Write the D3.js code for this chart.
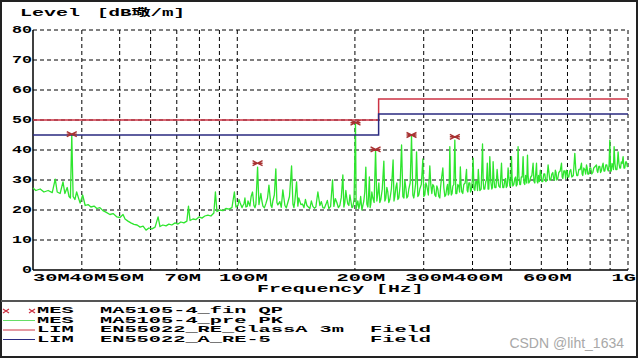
<!DOCTYPE html>
<html>
<head>
<meta charset="utf-8">
<script src="https://cdn.jsdelivr.net/npm/d3@7"></script>
<style>
  body { margin: 0; background: #fff; }
  svg { display: block; }
  text { font-family: "Liberation Mono", "Noto Sans CJK SC", monospace; font-weight: bold; white-space: pre; }
</style>
</head>
<body>
<svg id="chart" width="640" height="360"></svg>
<script>
// y axis
const levelTicks = [0, 10, 20, 30, 40, 50, 60, 70, 80];
// x grid (MHz) and labelled ticks
const freqGrid = [40, 50, 60, 70, 80, 90, 100, 200, 300, 400, 500, 600, 700, 800, 900, 1000];
const freqTicks = [30, 40, 50, 70, 100, 200, 300, 400, 600, 1000];
const freqTickLabels = ["30M", "40M", "50M", "70M", "100M", "200M", "300M", "400M", "600M", "1G"];

// limit lines [MHz, dBuV/m]
const limClassA = [[30, 50], [230, 50], [230, 57], [1000, 57]];
const limARe5 = [[30, 45], [230, 45], [230, 52], [1000, 52]];

// final QP measurements
const qpFreq = [37.7, 112.7, 200.7, 225.9, 279.2, 360.4];
const qpLevel = [45.3, 35.6, 49.1, 40.2, 45.0, 44.4];

// pre-scan PK trace, peaks and dips [MHz, dBuV/m]
const pkPeaks = [
  [30.0,27.3],[30.5,26.5],[31.3,27],[32.0,26],[32.8,26.5],[33.6,25.8],[34.2,30.3],[34.6,26],[35.2,25.5],[35.8,29.4],
  [36.2,25.5],[36.7,27.5],[37.1,24.5],[37.4,24],[37.7,45],[38.0,24.5],[38.4,23.5],[38.8,26],[39.6,22.3],[40.2,25],
  [40.8,21.5],[41.5,21.8],[42.2,21],[43.0,21.3],[43.7,20.5],[44.5,20.8],[45.3,19.8],[46.1,19.3],[47.2,18.5],[48.1,18.8],
  [49.2,17.7],[50.1,17.5],[51.0,18.5],[51.6,17],[52.5,16.3],[53.4,15.7],[54.4,15.2],[55.4,15],[56.4,14.3],[57.4,14.6],
  [58.4,13.3],[59.4,14],[60.5,13.7],[61.6,14.3],[62.7,17.7],[63.4,14.5],[64.5,15],[65.7,14.7],[66.8,15.3],[68.0,15],
  [69.3,15.7],[70.5,15.3],[71.7,16],[73.0,15.7],[74.3,16.3],[75.0,21.3],[75.7,16.5],[77.0,17],[78.4,16.8],[79.8,17.7],
  [81.2,17.3],[82.6,18],[84.1,18.3],[85.6,18],[87.1,19],[87.9,26],[88.7,19.5],[90.3,20],[91.9,19.8],[93.5,20.5],
  [95.2,20.3],[96.9,20.8],[98.3,26],[99.2,21],
  [100.4,21.5],[101.6,22.5],[102.8,20.8],[104.0,22],[105.2,21],[106.5,23],[107.7,21.3],[109.4,26],[110.3,21.5],[111.6,22],
  [112.7,34.3],[113.6,21.8],[114.9,25.5],[116.3,21.3],[118.4,22.2],[120.5,28.3],[121.9,21.5],[123.3,23],[125.5,33.7],[127.0,21.7],
  [128.5,22.8],[130.8,26.7],[132.4,21.5],[134.7,22.5],[137.7,34.7],[138.8,22],[140.4,23],[141.8,29.4],[142.9,21.3],[145.5,21.8],
  [148.1,20.8],[150.7,21.5],[153.4,20.5],[156.1,21.2],[158.9,21],[160.8,26],[162.7,21.5],[165.6,20.8],[168.5,21.8],[171.5,20.5],
  [175.3,30],[176.7,21.2],[179.8,22.5],[183.0,21.5],[186.3,31.7],[188.5,22.5],[190.7,24],[193.0,21.5],[195.3,23],[197.6,21],
  [200.7,48.8],[202.3,21.5],[204.7,20.5],
  [205.9,22],[208.4,20],[210.8,23],[213.3,34.3],[215.9,21],[217.8,31],[219.7,22],[222.3,24],[225.9,40],[227.6,23],
  [230.3,29],[233.0,23.5],[237.2,36.3],[240.0,24],[242.8,26],[245.7,23.5],[250.5,36.7],[253.1,24.5],[256.1,29],[259.1,24],
  [263.3,41.7],[265.3,24.5],[268.4,30],[271.6,24],[274.8,27],[279.2,44.5],[281.4,25],[284.7,26.5],[287.6,39.4],[289.8,24.5],
  [293.2,27],[298.5,37],[302.0,25],[305.6,28],[311.0,34.7],
  [314.7,25.5],[318.4,28],[322.2,24.5],[326.0,27],[329.9,24],[332.8,30],[335.8,34],[339.8,24.5],[343.8,27.5],[346.8,25],
  [349.9,41.1],[353.0,25],[356.2,28],[360.4,43.3],[364.6,25.5],[369.0,28],[372.3,34.4],[375.5,26],[380.0,28.5],[386.1,33.5],
  [389.1,26],[393.7,29],[397.2,26.5],[401.4,37.3],[405.5,26.5],[410.2,29.5],[413.9,33.5],[417.6,26.5],[424.3,42],[427.5,27],
  [432.6,29.5],[436.4,35.6],[440.3,27],[442.9,37.8],[448.2,27],[451.6,36.1],[456.2,27.5],[462.4,33.5],[467.0,28],[474.5,35.6],
  [478.1,27.5],[483.8,30],[488.1,27.5],[493.3,34],[498.3,28],[503.3,37.8],[507.2,28],[513.2,30.5],[517.7,28],[523.2,41.1],
  [528.5,28.5],[533.2,31],[538.9,37.8],[544.3,28.5],[553.0,38.3],[557.3,29],[563.9,31],[571.6,35.6],[577.4,29],[583.2,35.6],
  [587.7,29],[596.5,33.3],[601.6,29.5],[608.8,32],[616.0,29.5],[624.4,35],[630.7,30],[638.2,32],[645.8,30],[651.6,33.3],
  [657.3,30],[665.1,32.5],[675.8,35.6],[681.0,30.5],[689.1,33],[695.9,33.3],[701.3,31],[709.6,33],[718.1,31],[730.9,38.9],
  [739.5,31.5],[748.3,33.5],[760.2,35.6],[766.1,31.5],[775.2,33.5],[783.0,35],[789.0,32],[798.4,34],[807.8,32],[817.4,34],
  [830.5,35],[836.9,32.5],[846.9,34.5],[854.4,33],[863.5,35.6],[872.3,33],[882.6,35],[890.4,33],[898.4,43.3],[906.2,33],
  [914.3,35],[921.4,41.1],[930.5,33.5],[943.3,39.4],[952.8,34],[961.2,36],[971.5,37.8],[981.3,34],[991.2,36],[1000,34.5]
];

// pre-scan PK trace, dense noise band above 100 MHz [MHz, dBuV/m]
const pkBand = [
  [101.0,23.5],[103.4,21.5],[104.6,24],[106.0,21.2],[108.5,24.5],[111.0,20.8],[115.6,23],[117.3,20.7],[119.5,24],[122.6,20.8],
  [124.4,25],[126.3,22.5],[129.6,20.9],[131.6,24],[133.5,20.7],[136.0,24.5],[139.6,20.8],[143.7,24],[146.8,22],[149.4,23.5],
  [152.0,21],[154.7,23],[157.5,20.6],[159.8,23.5],[164.1,22.8],[167.0,20.6],[170.0,23.2],[173.3,21.2],[178.2,23.8],[181.4,20.8],
  [184.6,24.2],[187.4,21],[189.6,26.5],[191.8,22],[194.2,25],[196.5,20.8],[199.0,23.5],[201.5,20.5],[203.5,23],
  [206.9,24.5],[209.6,21.5],[212.0,26],[214.6,22],[216.8,25],[218.8,20.8],[221.0,26],[224.0,22.5],[229.0,25.5],[231.6,22.5],
  [235.0,27],[238.6,23],[241.4,27.5],[244.2,22.5],[248.0,27],[251.8,23],[254.6,27.5],[257.6,23.5],[261.0,28],[267.0,24],
  [270.0,27.5],[273.2,24.5],[277.0,29],[283.0,24],[286.2,29],[291.5,25],[295.8,28.5],[300.2,24.5],[303.8,29],[308.3,25],
  [312.8,28.5],[316.5,28.5],[320.3,25],[324.1,28],[327.9,24.5],[331.3,27.5],[337.8,27.5],[341.8,25],[345.3,28.5],[348.3,25.5],
  [351.4,28],[354.6,25.5],[358.3,28.5],[362.5,25.5],[366.8,28.5],[370.6,26],[373.9,28.5],[377.7,25.5],[383.0,29],[387.6,26.5],
  [391.4,29],[395.4,26],[399.3,29.5],[403.4,27],[407.8,29.5],[412.0,26.5],[415.7,29.5],[420.9,27],[426.0,29.5],[430.0,27],
  [434.5,30],[438.3,27],[445.5,29.5],[450.0,27.5],[453.9,30],[459.3,27.5],[464.7,30],[470.7,27.5],[476.3,30],[481.0,27.5],
  [486.0,30.5],[490.7,28],[495.8,30.5],[500.8,28],[505.2,30.5],[510.2,28.5],[515.5,31],[520.5,28.5],[525.8,31],[530.8,28.5],
  [536.0,31],[541.6,29],[547.0,31.5],[550.6,29],[555.0,31.5],[560.6,29.5],[567.5,31.5],[574.5,29.5],[580.3,32],[585.4,29.5],
  [590.0,31.5],[593.0,29.5],[599.0,32],[605.2,29.5],[612.4,32],[620.0,30],[627.5,32.5],[634.4,30],[642.0,32.5],[648.7,30],
  [654.4,32.5],[661.2,30.5],[670.4,33],[678.4,31],[685.0,33],[692.5,30.5],[698.6,33],[705.4,31],[713.8,33.5],[724.5,31.5],
  [735.2,33.5],[743.9,31.5],[754.2,33.5],[763.1,32],[770.6,34],[779.1,32],[786.0,34],[793.7,32],[803.1,34],[812.6,32.5],
  [824.0,34.5],[833.7,33],[841.9,34.5],[850.6,32.5],[859.0,34.5],[867.9,33],[877.4,35],[886.5,33.5],[894.4,35],[902.3,33],
  [910.2,35.5],[917.8,33.5],[926.0,35.5],[936.9,33.5],[948.0,35.5],[957.0,34],[966.3,35.5],[976.4,34],[986.2,36],[995.6,34.5]
];

const legendRows = [
  {tag: "MES", name: "MA5105-4_fin QP", extra: ""},
  {tag: "MES", name: "MA5105-4_pre PK", extra: ""},
  {tag: "LIM", name: "EN55022_RE_ClassA 3m", extra: "Field"},
  {tag: "LIM", name: "EN55022_A_RE-5", extra: "Field"}
];

const green = "#2ee52e";
const red = "#cc3344";
const blue = "#2a2a80";
const qpColor = "#a83232";
const charW = 12.2;

const svg = d3.select("#chart");

// outer frame + divider
svg.append("rect").attr("x", 1).attr("y", 1).attr("width", 636).attr("height", 356)
  .attr("fill", "none").attr("stroke", "#222").attr("stroke-width", 2);
svg.append("line").attr("x1", 1).attr("x2", 637).attr("y1", 301).attr("y2", 301)
  .attr("stroke", "#555").attr("stroke-width", 2);

const x = d3.scaleLog().domain([30, 1000]).range([33, 628]);
const y = d3.scaleLinear().domain([0, 80]).range([270, 30]);

// grid
svg.append("g").selectAll("line")
  .data(levelTicks.filter(d => d > 0))
  .join("line")
  .attr("x1", x(30)).attr("x2", x(1000))
  .attr("y1", d => y(d)).attr("y2", d => y(d))
  .attr("stroke", "#000").attr("stroke-dasharray", "4,3");

svg.append("g").selectAll("line")
  .data(freqGrid)
  .join("line")
  .attr("x1", d => x(d)).attr("x2", d => x(d))
  .attr("y1", y(80)).attr("y2", y(0))
  .attr("stroke", "#000").attr("stroke-dasharray", "4,3");

// axes lines
svg.append("line").attr("x1", x(30)).attr("x2", x(30)).attr("y1", y(80)).attr("y2", y(0))
  .attr("stroke", "#000").attr("stroke-width", 1.5);
svg.append("line").attr("x1", x(30)).attr("x2", x(1000)).attr("y1", y(0)).attr("y2", y(0))
  .attr("stroke", "#000").attr("stroke-width", 1.5);

// y labels
svg.append("g").selectAll("text")
  .data(levelTicks)
  .join("text")
  .attr("x", x(30) - 1)
  .attr("y", d => y(d))
  .attr("text-anchor", "end")
  .attr("dominant-baseline", "middle")
  .attr("font-size", 11)
  .attr("textLength", d => String(d).length * 10)
  .attr("lengthAdjust", "spacingAndGlyphs")
  .text(d => d);

// x labels
svg.append("g").selectAll("text")
  .data(freqTicks)
  .join("text")
  .attr("x", (d, i) => i === 0 ? x(d) : (i === freqTicks.length - 1 ? 636 : x(d) + 6))
  .attr("y", 278)
  .attr("text-anchor", (d, i) => i === 0 ? "start" : (i === freqTicks.length - 1 ? "end" : "middle"))
  .attr("dominant-baseline", "middle")
  .attr("font-size", 11)
  .attr("textLength", (d, i) => freqTickLabels[i].length * charW)
  .attr("lengthAdjust", "spacingAndGlyphs")
  .text((d, i) => freqTickLabels[i]);

// axis titles
svg.append("text").attr("x", 20).attr("y", 13).attr("dominant-baseline", "middle")
  .attr("font-size", 10).attr("textLength", 60).attr("lengthAdjust", "spacingAndGlyphs")
  .text("Level");
svg.append("text").attr("x", 97).attr("y", 13).attr("dominant-baseline", "middle")
  .attr("font-size", 10).attr("textLength", 88).attr("lengthAdjust", "spacingAndGlyphs")
  .text("[dB璥/m]");
svg.append("text").attr("x", 257).attr("y", 289).attr("dominant-baseline", "middle")
  .attr("font-size", 11).attr("textLength", 14 * 11.9).attr("lengthAdjust", "spacingAndGlyphs")
  .text("Frequency [Hz]");

// PK trace
const pkTrace = pkPeaks.concat(pkBand).sort((a, b) => a[0] - b[0]);
const line = d3.line().x(d => x(d[0])).y(d => y(d[1]));
svg.append("path")
  .attr("d", line(pkTrace))
  .attr("fill", "none")
  .attr("stroke", green)
  .attr("stroke-width", 1.3)
  .attr("stroke-linejoin", "round");

// limits
svg.append("path").attr("d", line(limClassA)).attr("fill", "none").attr("stroke", red).attr("stroke-width", 1.5);
svg.append("path").attr("d", line(limARe5)).attr("fill", "none").attr("stroke", blue).attr("stroke-width", 1.5);

// QP markers
const qpMark = "M-5,-2.5L5,2.5M-5,2.5L5,-2.5M-5,0L5,0";
svg.append("g").selectAll("path")
  .data(qpFreq)
  .join("path")
  .attr("transform", (d, i) => `translate(${x(d)},${y(qpLevel[i])})`)
  .attr("d", qpMark)
  .attr("fill", "none")
  .attr("stroke", qpColor)
  .attr("stroke-width", 1.4);

// legend
const rowY = [311, 320.5, 330, 339.5];
const legend = svg.append("g");
legend.append("path").attr("d", "M-3,-2L3,2M-3,2L3,-2").attr("transform", `translate(6,${rowY[0]})`)
  .attr("stroke", red).attr("stroke-width", 1.3);
legend.append("path").attr("d", "M-3,-2L3,2M-3,2L3,-2").attr("transform", `translate(32,${rowY[0]})`)
  .attr("stroke", red).attr("stroke-width", 1.3);
legend.append("line").attr("x1", 3).attr("x2", 35).attr("y1", rowY[1]).attr("y2", rowY[1]).attr("stroke", "#66dd66");
legend.append("line").attr("x1", 3).attr("x2", 35).attr("y1", rowY[2]).attr("y2", rowY[2]).attr("stroke", red);
legend.append("line").attr("x1", 3).attr("x2", 35).attr("y1", rowY[3]).attr("y2", rowY[3]).attr("stroke", blue);

legendRows.forEach((r, i) => {
  legend.append("text").attr("x", 37).attr("y", rowY[i]).attr("dominant-baseline", "middle")
    .attr("font-size", 9).attr("textLength", r.tag.length * charW).attr("lengthAdjust", "spacingAndGlyphs")
    .text(r.tag);
  legend.append("text").attr("x", 100).attr("y", rowY[i]).attr("dominant-baseline", "middle")
    .attr("font-size", 9).attr("textLength", r.name.length * charW).attr("lengthAdjust", "spacingAndGlyphs")
    .text(r.name);
  if (r.extra) {
    legend.append("text").attr("x", 370).attr("y", rowY[i]).attr("dominant-baseline", "middle")
      .attr("font-size", 9).attr("textLength", r.extra.length * charW).attr("lengthAdjust", "spacingAndGlyphs")
      .text(r.extra);
  }
});

// watermark
svg.append("text").attr("x", 624).attr("y", 344).attr("text-anchor", "end").attr("dominant-baseline", "middle")
  .attr("font-size", 14).attr("fill", "#a8a8a8")
  .style("font-family", "'Liberation Sans', Arial, sans-serif").style("font-weight", "normal")
  .text("CSDN @liht_1634");
</script>
</body>
</html>
